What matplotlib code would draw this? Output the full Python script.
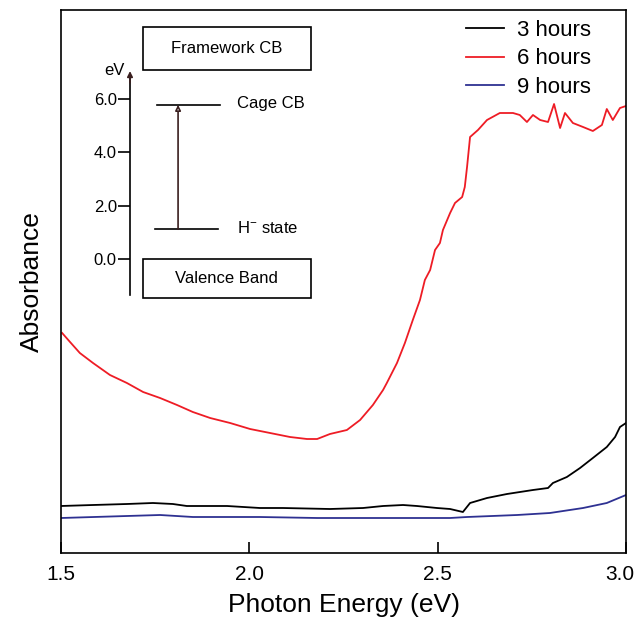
import numpy as np
import matplotlib.pyplot as plt
import matplotlib.transforms as mtransforms

plt.rcParams['font.family'] = ['Liberation Sans', 'DejaVu Sans']
plt.rcParams['mathtext.default'] = 'regular'

# photon energy (eV) and absorbance (arb. units)
x_3h = [1.500, 1.585, 1.675, 1.744, 1.797, 1.834, 1.941, 2.028, 2.089, 2.214, 2.302,
        2.355, 2.408, 2.445, 2.498, 2.533, 2.567, 2.586, 2.631, 2.684, 2.753, 2.793,
        2.806, 2.843, 2.878, 2.912, 2.949, 2.971, 2.984, 3.000]
y_3h = [0.47, 0.48, 0.49, 0.50, 0.49, 0.47, 0.47, 0.45, 0.45, 0.44, 0.45,
        0.47, 0.48, 0.47, 0.45, 0.44, 0.41, 0.50, 0.55, 0.59, 0.63, 0.65,
        0.70, 0.76, 0.85, 0.95, 1.06, 1.16, 1.26, 1.30]

x_6h = [1.503, 1.524, 1.550, 1.585, 1.630, 1.675, 1.718, 1.763, 1.808, 1.850, 1.896,
        1.949, 2.002, 2.055, 2.108, 2.153, 2.180, 2.214, 2.259, 2.294, 2.328, 2.355,
        2.365, 2.392, 2.413, 2.434, 2.453, 2.466, 2.480, 2.493, 2.506, 2.514, 2.533,
        2.546, 2.565, 2.572, 2.578, 2.586, 2.607, 2.631, 2.665, 2.700, 2.718, 2.737,
        2.753, 2.772, 2.793, 2.809, 2.825, 2.838, 2.859, 2.886, 2.912, 2.936, 2.949,
        2.965, 2.984, 3.000]
y_6h = [2.20, 2.11, 2.00, 1.90, 1.78, 1.70, 1.61, 1.55, 1.48, 1.41, 1.35,
        1.30, 1.24, 1.20, 1.16, 1.14, 1.14, 1.19, 1.23, 1.33, 1.48, 1.63,
        1.70, 1.90, 2.10, 2.33, 2.53, 2.73, 2.83, 3.03, 3.10, 3.23, 3.40,
        3.50, 3.56, 3.66, 3.86, 4.16, 4.23, 4.33, 4.40, 4.40, 4.38, 4.31,
        4.38, 4.33, 4.31, 4.49, 4.25, 4.40, 4.30, 4.26, 4.22, 4.28, 4.44,
        4.33, 4.45, 4.47]

x_9h = [1.500, 1.675, 1.763, 1.850, 2.028, 2.180, 2.533, 2.578, 2.711, 2.798, 2.886, 2.949, 3.000]
y_9h = [0.35, 0.37, 0.38, 0.36, 0.36, 0.35, 0.35, 0.36, 0.38, 0.40, 0.45, 0.50, 0.58]

labels = ['3 hours', '6 hours', '9 hours']
colors = ['black', '#ee1c25', '#2e3192']

# inset energy level diagram (eV)
inset_ticks = [0.0, 2.0, 4.0, 6.0]
level_names = ['Cage CB', 'H$^{-}$ state']
level_energy = [5.78, 1.12]
box_names = ['Framework CB', 'Valence Band']
box_ranges = [(7.1, 8.7), (-1.45, 0.0)]

fig = plt.figure(figsize=(6.36, 6.25), dpi=100)
ax = fig.add_axes([61/636, 72/625, 565/636, 543/625])

for xs, ys, lab, c in zip([x_3h, x_6h, x_9h], [y_3h, y_6h, y_9h], labels, colors):
    ax.plot(xs, ys, color=c, lw=1.3, label=lab)

ax.set_xlim(1.5, 3.0)
ax.set_ylim(0, 5.43)
ax.set_xticks([1.5, 2.0, 2.5, 3.0])
ax.set_xticklabels(['1.5', '2.0', '2.5', '3.0'])
ax.set_yticks([])
ax.tick_params(axis='x', direction='in', length=8, width=1.2, labelsize=15, pad=9)
# last label sits a bit left of its tick so it stays inside the figure
last = ax.get_xticklabels()[-1]
last.set_transform(last.get_transform() + mtransforms.ScaledTranslation(-6/100, 0, fig.dpi_scale_trans))
for s in ax.spines.values():
    s.set_linewidth(1.2)
ax.set_xlabel('Photon Energy (eV)', fontsize=19, labelpad=6)
ax.set_ylabel('Absorbance', fontsize=19, labelpad=12)

ax.legend(loc='upper right', frameon=False, fontsize=16, handlelength=1.7,
          handletextpad=0.6, labelspacing=0.35, borderaxespad=0.03,
          bbox_to_anchor=(0.955, 1.0))

# inset
ins = fig.add_axes([130/636, (625 - 305)/625, 190/636, 285/625])
ins.patch.set_alpha(0)
ins.set_xlim(0, 1)
ins.set_ylim(-1.72, 8.96)
for k in ['top', 'right', 'bottom']:
    ins.spines[k].set_visible(False)
ins.spines['left'].set_bounds(-1.35, 6.9)
ins.spines['left'].set_linewidth(1.2)
ins.set_xticks([])
ins.set_yticks(inset_ticks)
ins.set_yticklabels(['%.1f' % t for t in inset_ticks])
ins.tick_params(axis='y', direction='out', length=8.5, width=1.2, labelsize=12, pad=1)
ins.annotate('', xy=(0, 7.15), xytext=(0, 6.5),
             arrowprops=dict(arrowstyle='-|>', color='#3a1f1f', lw=1.2, mutation_scale=8),
             annotation_clip=False)
ins.text(-0.03, 7.05, 'eV', ha='right', va='center', fontsize=12)

for name, (lo, hi) in zip(box_names, box_ranges):
    ins.add_patch(plt.Rectangle((0.068, lo), 0.885, hi - lo, fill=False, lw=1.2, ec='black'))
    ins.text(0.51, (lo + hi) / 2, name, ha='center', va='center', fontsize=12)

ins.plot([0.142, 0.474], [level_energy[0]] * 2, color='black', lw=1.2)
ins.plot([0.132, 0.463], [level_energy[1]] * 2, color='black', lw=1.2)
for name, e in zip(level_names, level_energy):
    ins.text(0.563, e + 0.05, name, ha='left', va='center', fontsize=12)
ins.annotate('', xy=(0.253, level_energy[0]), xytext=(0.253, level_energy[1]),
             arrowprops=dict(arrowstyle='-|>', color='#3a1f1f', lw=1.2,
                             mutation_scale=8, shrinkA=0, shrinkB=0, fc='white'))

fig.savefig('out.png', dpi=100)
